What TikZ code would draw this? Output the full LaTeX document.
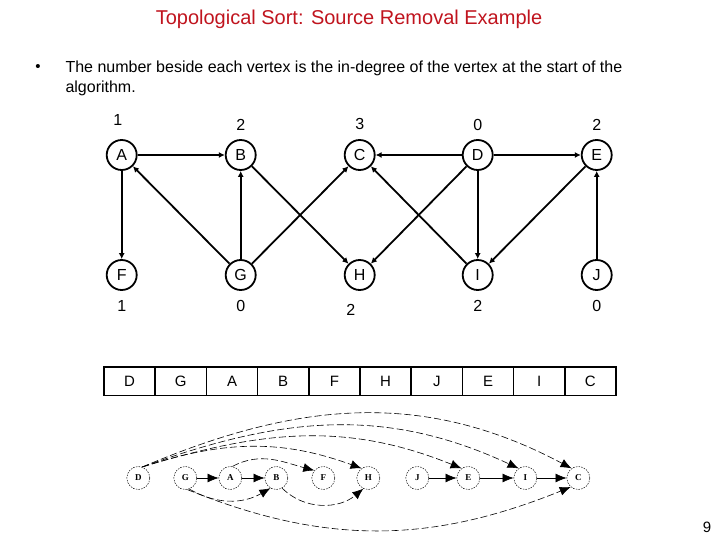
\documentclass[tikz,border=0pt]{standalone}
\usepackage{fontspec}
\setmainfont{Liberation Sans}
\newfontfamily\dotfont{Liberation Serif}
\usetikzlibrary{arrows.meta, positioning}
\definecolor{titlered}{RGB}{192,20,30}

\begin{document}
\begin{tikzpicture}[
    x=1pt, y=-1pt,
    on grid,
    vertex/.style={draw, circle, line width=1.8pt, minimum size=30pt, inner sep=0pt, font=\fontsize{16}{18}\selectfont},
    deg/.style={font=\fontsize{16}{18}\selectfont},
    edge/.style={-{Latex[length=6pt,width=6pt]}, line width=1.8pt},
    cell/.style={draw, line width=1.5pt, outer sep=0pt, minimum width=51.2pt, minimum height=28.5pt, font=\fontsize{15}{17}\selectfont},
    dot/.style={draw, circle, dash pattern=on 1.5pt off 1.2pt, line width=0.5pt, minimum size=23pt, inner sep=0pt, font=\dotfont\fontsize{9}{10}\selectfont\bfseries},
    sarc/.style={-{Latex[length=11pt,width=9pt]}, line width=0.6pt},
    darc/.style={sarc, dash pattern=on 7pt off 3pt}
]
    \useasboundingbox (0,0) rectangle (720,540);

    % heading
    \node[text=titlered, font=\fontsize{20}{24}\selectfont] (title) at (349,19) {Topological Sort: Source Removal Example};
    \node[font=\fontsize{15}{20}\selectfont] (bullet) at (38,68) {\textbullet};
    \node[anchor=west, align=left, font=\fontsize{16}{20}\selectfont] (intro) at (62,78)
        {The number beside each vertex is the in-degree of the vertex at the start of the\\algorithm.};

    % graph
    \node[vertex] at (121.7,155) (A) {A};
    \node[vertex, right=119pt of A] (B) {B};
    \node[vertex, right=119pt of B] (C) {C};
    \node[vertex, right=118pt of C] (D) {D};
    \node[vertex, right=119pt of D] (E) {E};
    \node[vertex, below=120pt of A] (F) {F};
    \node[vertex, below=120pt of B] (G) {G};
    \node[vertex, below=120pt of C] (H) {H};
    \node[vertex, below=120pt of D] (I) {I};
    \node[vertex, below=120pt of E] (J) {J};

    \node[deg, above left=35pt and 4pt of A] (dA) {1};
    \node[deg, above=30pt of B] (dB) {2};
    \node[deg, above=31pt of C] (dC) {3};
    \node[deg, above=30pt of D] (dD) {0};
    \node[deg, above=30pt of E] (dE) {2};
    \node[deg, below=31pt of F] (dF) {1};
    \node[deg, below=31pt of G] (dG) {0};
    \node[deg, below left=35pt and 9pt of H] (dH) {2};
    \node[deg, below=31pt of I] (dI) {2};
    \node[deg, below=31pt of J] (dJ) {0};

    \draw[edge] (A) -- (B);
    \draw[edge] (A) -- (F);
    \draw[edge] (G) -- (A);
    \draw[edge] (G) -- (B);
    \draw[edge] (G) -- (C);
    \draw[edge] (B) -- (H);
    \draw[edge] (D) -- (C);
    \draw[edge] (D) -- (E);
    \draw[edge] (D) -- (H);
    \draw[edge] (D) -- (I);
    \draw[edge] (I) -- (C);
    \draw[edge] (E) -- (I);
    \draw[edge] (J) -- (E);

    % sorted order
    \node[cell] at (129.6,381) (tD) {D};
    \node[cell, right=51.2pt of tD] (tG) {G};
    \node[cell, right=51.2pt of tG] (tA) {A};
    \node[cell, right=51.2pt of tA] (tB) {B};
    \node[cell, right=51.2pt of tB] (tF) {F};
    \node[cell, right=51.2pt of tF] (tH) {H};
    \node[cell, right=51.2pt of tH] (tJ) {J};
    \node[cell, right=51.2pt of tJ] (tE) {E};
    \node[cell, right=51.2pt of tE] (tI) {I};
    \node[cell, right=51.2pt of tI] (tC) {C};

    % linear layout
    \node[dot] at (138.3,478) (sD) {D};
    \node[dot, right=47pt of sD] (sG) {G};
    \node[dot, right=45pt of sG] (sA) {A};
    \node[dot, right=46pt of sA] (sB) {B};
    \node[dot, right=47pt of sB] (sF) {F};
    \node[dot, right=45pt of sF] (sH) {H};
    \node[dot, right=49pt of sH] (sJ) {J};
    \node[dot, right=51pt of sJ] (sE) {E};
    \node[dot, right=57pt of sE] (sI) {I};
    \node[dot, right=53pt of sI] (sC) {C};

    \draw[sarc] (sG) -- (sA);
    \draw[sarc] (sA) -- (sB);
    \draw[sarc] (sJ) -- (sE);
    \draw[sarc] (sE) -- (sI);
    \draw[sarc] (sI) -- (sC);
    \draw[darc] (sD.70) to[out=18, in=160] (sH.125);
    \draw[darc] (sD.70) to[out=17, in=158] (sE.125);
    \draw[darc] (sD.70) to[out=20, in=155] (sI.125);
    \draw[darc] (sD.70) to[out=23, in=152] (sC.125);
    \draw[darc] (sA.80) to[out=28, in=165] (sF.140);
    \draw[darc] (sG.-70) to[out=-30, in=-150] (sB.-120);
    \draw[darc] (sB.-60) to[out=-45, in=-140] (sH.-115);
    \draw[darc] (sG.-80) to[out=-22, in=-158] (sC.-130);

    \node[font=\fontsize{15}{17}\selectfont] (page) at (707,527) {9};
\end{tikzpicture}
\end{document}
